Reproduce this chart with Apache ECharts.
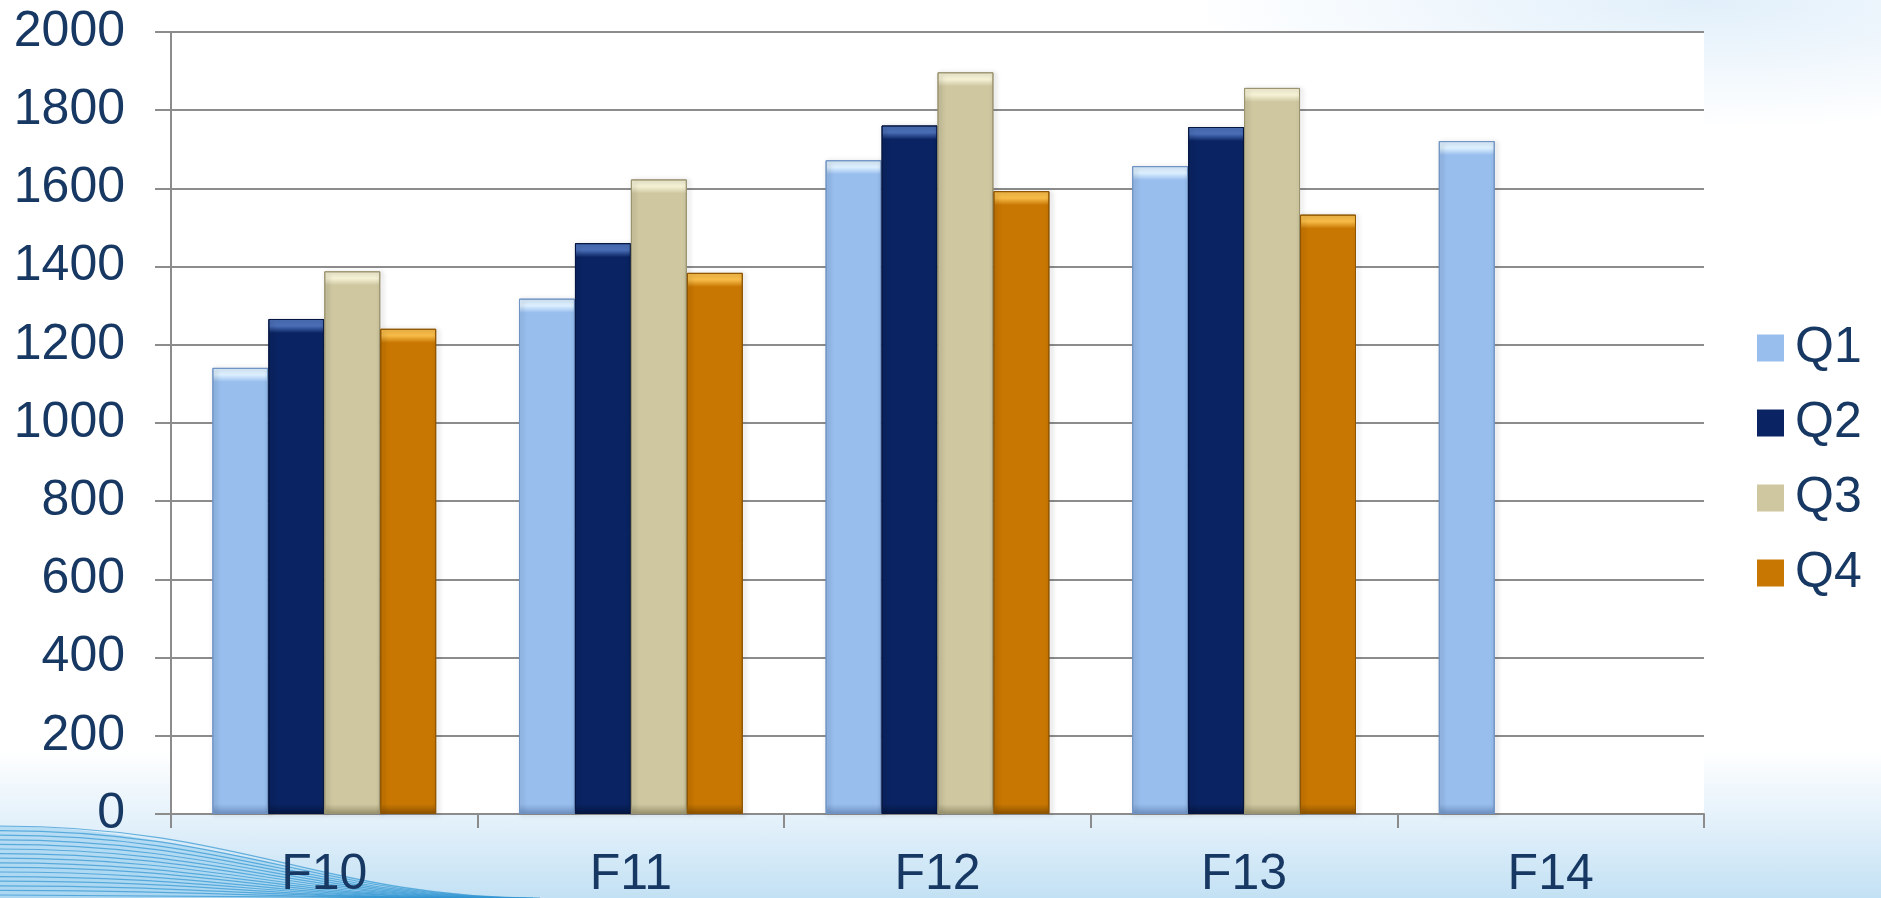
<!DOCTYPE html>
<html>
<head>
<meta charset="utf-8">
<script src="https://cdn.jsdelivr.net/npm/echarts@6/dist/echarts.min.js"></script>
<style>
html,body{margin:0;padding:0;width:1881px;height:898px;overflow:hidden;}
body{
  background:
    radial-gradient(ellipse 520px 130px at 1700px 0px, rgba(200,226,246,0.55), rgba(255,255,255,0) 100%),
    linear-gradient(to bottom, #ffffff 0px, #ffffff 750px, #e6f2fb 815px, #c3e1f4 898px);
}
#chart{width:1881px;height:898px;}
</style>
</head>
<body>
<div id="chart"></div>
<script>
const categories = ['F10', 'F11', 'F12', 'F13', 'F14'];
const seriesNames = ['Q1', 'Q2', 'Q3', 'Q4'];
const q1 = [1141, 1318, 1672, 1657, 1721];
const q2 = [1266, 1460, 1761, 1757, null];
const q3 = [1388, 1623, 1897, 1857, null];
const q4 = [1241, 1384, 1593, 1533, null];
const yTicks = { min: 0, max: 2000, interval: 200 };

const seriesValues = [q1, q2, q3, q4];
const baseColors = ['#98BEEE', '#0A2463', '#CEC7A0', '#C87702'];
const topColors  = ['#DDF0FF', '#4A6EB6', '#F6F2D6', '#F8BC48'];
const edgeColors = ['#6F93C4', '#051641', '#9B9470', '#8E5400'];
const textColor = '#173863';
const axisColor = '#8C8C8C';
const fontFam = "'Liberation Sans', Arial, sans-serif";

const chart = echarts.init(document.getElementById('chart'), null, {renderer: 'canvas'});

// decorative swoosh in lower-left corner
const swoosh = [];
swoosh.push({
  type: 'polygon', silent: true, z: -10,
  shape: { points: (function(){
    const pts = [];
    for (let i = 0; i <= 40; i++) {
      const t = i / 40;
      const x = 540 * t;
      const y = 826 + 72 * (3*t*t - 2*t*t*t);
      pts.push([x, y]);
    }
    pts.push([540, 898]); pts.push([0, 898]);
    return pts;
  })() },
  style: { fill: 'rgba(150,205,238,0.55)' }
});
for (let i = 0; i < 16; i++) {
  const y0 = 826 + i * 4.6;
  const x1 = 540 - i * 7;
  swoosh.push({
    type: 'bezierCurve', silent: true, z: -9,
    shape: { x1: 0, y1: y0, x2: x1, y2: 898, cpx1: x1 * 0.45, cpy1: y0, cpx2: x1 * 0.6, cpy2: 898 },
    style: { stroke: 'rgba(50,150,210,0.7)', lineWidth: 1.2, fill: null }
  });
}

const option = {
  animation: false,
  backgroundColor: 'transparent',
  textStyle: { fontFamily: fontFam },
  grid: {
    left: 171, right: 177, top: 32, bottom: 84,
    containLabel: false,
    outerBoundsMode: 'none',
    show: true, backgroundColor: '#ffffff', borderWidth: 0
  },
  legend: {
    orient: 'vertical',
    left: 1752, top: 318,
    itemWidth: 27, itemHeight: 27, itemGap: 25,
    icon: 'rect',
    textStyle: { fontSize: 50, color: textColor, fontFamily: fontFam, lineHeight: 50, padding: [0, 0, 0, 6] },
    data: seriesNames
  },
  xAxis: {
    type: 'category',
    data: categories,
    boundaryGap: true,
    axisLine: { show: true, lineStyle: { color: axisColor, width: 2 } },
    axisTick: { show: true, length: 14, lineStyle: { color: axisColor, width: 2 } },
    axisLabel: { fontSize: 50, color: textColor, margin: 36, fontFamily: fontFam },
    splitLine: { show: false }
  },
  yAxis: {
    type: 'value',
    min: yTicks.min, max: yTicks.max, interval: yTicks.interval,
    axisLine: { show: true, lineStyle: { color: axisColor, width: 2 } },
    axisTick: { show: true, length: 16, inside: false, lineStyle: { color: axisColor, width: 2 } },
    axisLabel: { fontSize: 50, color: textColor, margin: 46, fontFamily: fontFam,
      formatter: v => String(v) },
    splitLine: { show: true, lineStyle: { color: axisColor, width: 2 } }
  },
  graphic: swoosh,
  series: seriesNames.map((name, si) => ({
    name: name,
    type: 'bar',
    barGap: '0%',
    barCategoryGap: '27%',
    itemStyle: { color: baseColors[si] },
    data: seriesValues[si]
  }))
};
chart.setOption(option);

// bevel-like shading: computed from the axis scale so the top band is ~14px
const py0 = chart.convertToPixel({ yAxisIndex: 0 }, 0);
const py1 = chart.convertToPixel({ yAxisIndex: 0 }, 1000);
const pxPerUnit = (py0 - py1) / 1000;
chart.setOption({
  series: seriesNames.map((name, si) => ({
    name: name,
    data: seriesValues[si].map(v => {
      if (v == null) return null;
      const h = v * pxPerUnit;
      const t = Math.min(0.5, 14 / h);
      const b = Math.min(0.5, 10 / h);
      return {
        value: v,
        itemStyle: {
          color: {
            type: 'linear', x: 0, y: 0, x2: 0, y2: 1,
            colorStops: [
              { offset: 0, color: topColors[si] },
              { offset: t * 0.5, color: topColors[si] },
              { offset: t, color: baseColors[si] },
              { offset: 1 - b, color: baseColors[si] },
              { offset: 1, color: edgeColors[si] }
            ]
          },
          borderColor: edgeColors[si],
          borderWidth: 1,
          shadowColor: 'rgba(0,0,0,0.3)',
          shadowBlur: 5,
          shadowOffsetX: 2,
          shadowOffsetY: 1
        }
      };
    })
  }))
});
</script>
</body>
</html>
